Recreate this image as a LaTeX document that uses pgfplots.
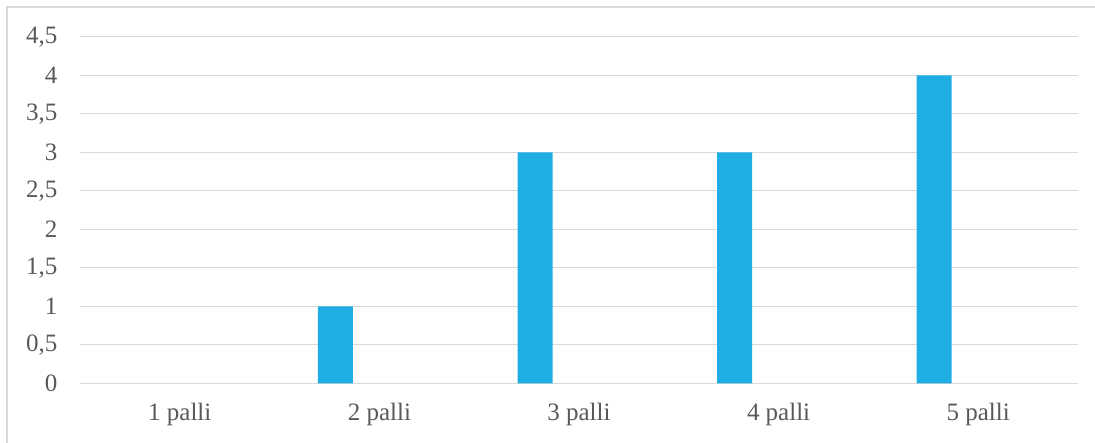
\documentclass[border=0pt]{standalone}
\usepackage{pgfplots}
\pgfplotsset{compat=1.18}
\usepackage{fontspec}
\setmainfont{Liberation Serif}
\definecolor{barblue}{HTML}{1FAEE3}
\definecolor{gridgray}{HTML}{D9D9D9}
\definecolor{textgray}{HTML}{595959}
\begin{document}
\begin{tikzpicture}
\useasboundingbox (0,0) rectangle (1095pt,443pt);
\draw[color=gridgray, line width=1.5pt] (7pt,-20pt) -- (7pt,436pt) -- (1120pt,436pt);
\begin{axis}[
  at={(80pt,59.7pt)}, anchor=south west,
  scale only axis,
  width=998pt, height=346.5pt,
  xmin=-0.5, xmax=4.5,
  ymin=0, ymax=4.5,
  axis line style={draw=none},
  ytick={0,0.5,...,4.5},
  xtick={0,1,2,3,4},
  xticklabels={1 palli,2 palli,3 palli,4 palli,5 palli},
  ymajorgrids,
  grid style={gridgray, line width=1.2pt},
  major tick length=0pt,
  tick style={draw=none},
  /pgf/number format/use comma,
  /pgf/number format/assume math mode=true,
  tick label style={font=\fontsize{25}{29}\selectfont, text=textgray},
  yticklabel style={xshift=-19pt},
  xticklabel style={yshift=-16pt},
  ybar, bar width=35pt, bar shift=-44pt,
  clip=false,
]
\addplot[fill=barblue, draw=none] coordinates {(1,1) (2,3) (3,3) (4,4)};
\end{axis}
\end{tikzpicture}
\end{document}
